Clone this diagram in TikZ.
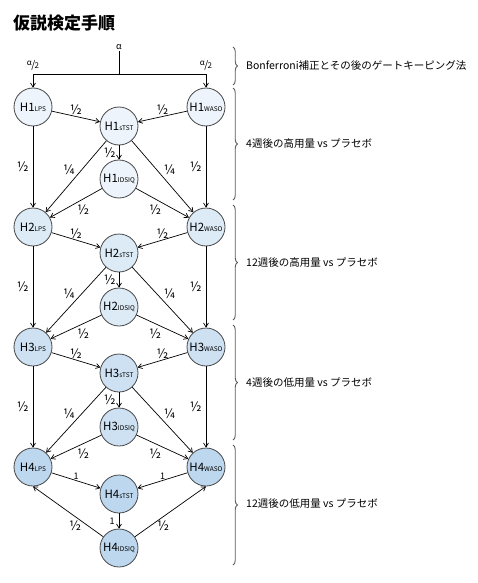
\documentclass[tikz,border=0pt]{standalone}
\usepackage{fontspec}
\setmainfont{Noto Sans CJK JP}
\usetikzlibrary{arrows.meta,decorations.pathreplacing}

\definecolor{rowone}{HTML}{EDF4FB}
\definecolor{rowtwo}{HTML}{DDEBF7}
\definecolor{rowthree}{HTML}{CDE1F3}
\definecolor{rowfour}{HTML}{BDD7EE}
\definecolor{rim}{HTML}{474747}
\definecolor{bracegray}{HTML}{5A5A5A}

\tikzset{
  hyp/.style={circle, draw=rim, line width=0.8pt, minimum size=38pt, inner sep=0pt,
    font=\fontsize{11.5}{12}\selectfont},
  link/.style={-{Straight Barb[length=4pt,width=5pt]}, line width=0.7pt},
  weight/.style={font=\fontsize{13}{13}\selectfont, inner sep=1pt},
  span/.style={decorate, decoration={brace, amplitude=4.5pt}, draw=bracegray, line width=0.9pt},
  caption/.style={anchor=west, font=\fontsize{10.5}{12}\selectfont, inner sep=0pt},
}
\newcommand{\hname}[2]{H#1{\fontsize{6.5}{6.5}\selectfont #2}}
\newcommand{\halfalpha}{\raisebox{0.3em}{\fontsize{8}{8}\selectfont α}\kern-0.5pt{\fontsize{10}{10}\selectfont /}\kern-0.5pt{\fontsize{8}{8}\selectfont 2}}

\begin{document}
\begin{tikzpicture}[x=1pt, y=-1pt]
  \useasboundingbox (0,0) rectangle (478,583);

  % Title
  \node[anchor=west, inner sep=0pt, font=\fontsize{17}{20}\selectfont\bfseries] (title) at (13,23) {仮説検定手順};

  % Hypotheses, one row per comparison
  \foreach \r/\yl/\yt/\yi/\col in {1/107/126/179/rowone, 2/227/253/307/rowtwo,
                                    3/347/373/427/rowthree, 4/467/494/548/rowfour} {
    \node[hyp, fill=\col] (L\r) at (33,\yl) {\hname{\r}{LPS}};
    \node[hyp, fill=\col] (W\r) at (206,\yl) {\hname{\r}{WASO}};
    \node[hyp, fill=\col] (T\r) at (119,\yt) {\hname{\r}{sTST}};
    \node[hyp, fill=\col] (I\r) at (119,\yi) {\hname{\r}{IDSIQ}};
  }

  % Alpha split at the top
  \node[font=\fontsize{9}{9}\selectfont, inner sep=1pt] (alpha) at (119,47) {α};
  \coordinate (split) at (119,74);
  \draw[line width=0.7pt] (alpha) -- (split);
  \draw[line width=0.7pt] (L1 |- split) -- (W1 |- split);
  \draw[link] (L1 |- split) -- (L1);
  \draw[link] (W1 |- split) -- (W1);
  \node[inner sep=0pt] (aleft) at (33,65) {\halfalpha};
  \node[inner sep=0pt] (aright) at (206,65) {\halfalpha};

  % Edges inside each row
  \foreach \r in {1,2,3} {
    \draw[link] (L\r) -- node[weight, midway, above] {½} (T\r);
    \draw[link] (W\r) -- node[weight, midway, above] {½} (T\r);
    \draw[link] (T\r) -- node[weight, midway, left=2pt] {½} (I\r);
  }
  \draw[link] (L4) -- node[weight, midway, above, font=\fontsize{9}{9}\selectfont] {1} (T4);
  \draw[link] (W4) -- node[weight, midway, above, font=\fontsize{9}{9}\selectfont] {1} (T4);
  \draw[link] (T4) -- node[weight, midway, left=3pt, font=\fontsize{9}{9}\selectfont] {1} (I4);

  % Edges down to the next row
  \foreach \r/\n in {1/2, 2/3, 3/4} {
    \draw[link] (L\r) -- node[weight, midway, left=3pt] {½} (L\n);
    \draw[link] (W\r) -- node[weight, midway, left=3pt] {½} (W\n);
    \draw[link] (T\r) -- node[weight, midway, above left] {¼} (L\n);
    \draw[link] (T\r) -- node[weight, midway, above right] {¼} (W\n);
    \draw[link] (I\r) -- node[weight, midway, below right] {½} (L\n);
    \draw[link] (I\r) -- node[weight, midway, below left] {½} (W\n);
  }

  % Last row passes back to LPS and WASO
  \draw[link] (I4) -- node[weight, pos=0.4, below=3pt] {½} (L4.south);
  \draw[link] (I4) -- node[weight, pos=0.4, below=3pt] {½} (W4.south);

  % Braces on the right
  \draw[span] (233,47) -- (233,85);
  \draw[span] (233,88) -- (233,200);
  \draw[span] (233,205) -- (233,320);
  \draw[span] (233,325) -- (233,440);
  \draw[span] (233,445) -- (233,565);
  \node[caption] (bonf) at (246,66) {Bonferroni補正とその後のゲートキーピング法};
  \node[caption] (step1) at (246,144) {4週後の高用量 vs プラセボ};
  \node[caption] (step2) at (246,263) {12週後の高用量 vs プラセボ};
  \node[caption] (step3) at (246,383) {4週後の低用量 vs プラセボ};
  \node[caption] (step4) at (246,504) {12週後の低用量 vs プラセボ};
\end{tikzpicture}
\end{document}
